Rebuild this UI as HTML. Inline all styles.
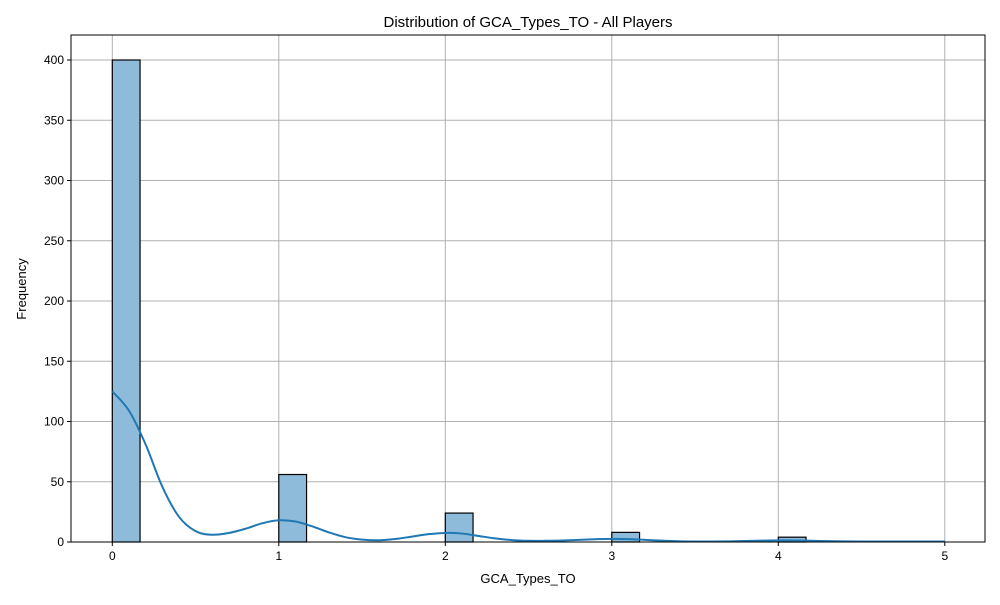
<!DOCTYPE html>
<html><head><meta charset="utf-8"><style>
body{margin:0;background:#fff;font-family:"Liberation Sans",sans-serif}
</style></head><body>
<svg id="chart" width="1000" height="600" font-family="Liberation Sans, sans-serif">
<rect width="1000" height="600" fill="#fff"/>
<text x="528" y="27" font-size="15" text-anchor="middle">Distribution of GCA_Types_TO - All Players</text>
<g id="grid"></g><g id="bars"></g><g id="kde"></g><g id="axes"></g>
<text x="528" y="583" font-size="13" text-anchor="middle">GCA_Types_TO</text>
<text x="26" y="289" font-size="13" text-anchor="middle" transform="rotate(-90 26 289)">Frequency</text>
</svg>
<script>
const binStarts=[0,1,2,3,4];
const binCounts=[400,56,24,8,4];
const binWidth=5/30;
const kdeX=[0,0.1,0.2,0.3,0.4,0.5,0.6,0.7,0.8,0.9,1.0,1.1,1.2,1.3,1.4,1.5,1.6,1.7,1.8,1.9,2.0,2.1,2.2,2.3,2.4,2.5,2.6,2.7,2.8,2.9,3.0,3.1,3.2,3.3,3.4,3.5,3.6,3.7,3.8,3.9,4.0,4.1,4.2,4.3,4.4,4.5,4.6,4.7,4.8,4.9,5.0];
const kdeY=[125,109,81,46,21,9,6,7.5,11,15.5,18,17,13,8,4,2,1.5,2.5,4.5,6.5,7.5,7,5,3,1.6,1,1,1.2,1.8,2.3,2.6,2.4,1.8,1.1,0.6,0.4,0.4,0.5,0.8,1.1,1.3,1.2,1.0,0.7,0.5,0.4,0.4,0.4,0.4,0.4,0.4];
const xTicks=[0,1,2,3,4,5];
const yTicks=[0,50,100,150,200,250,300,350,400];
const L=71,R=985,T=35,B=542;
const xs=v=>112.3+v*166.5;
const ys=v=>B-v*1.205;
const ns="http://www.w3.org/2000/svg";
function mk(tag,attrs,parent){const e=document.createElementNS(ns,tag);for(const k in attrs)e.setAttribute(k,attrs[k]);parent.appendChild(e);return e;}
const grid=document.getElementById('grid'),bars=document.getElementById('bars'),kde=document.getElementById('kde'),axes=document.getElementById('axes');
xTicks.forEach(t=>{
 const g=mk('line',{x1:xs(t),x2:xs(t),y1:T,y2:B,stroke:'#b0b0b0','stroke-width':1},grid);
 
 
 const tk=mk('line',{x1:xs(t),x2:xs(t),y1:B,y2:B+4,stroke:'#000'},axes);
 
 
 const lb=mk('text',{x:xs(t),y:B+18,'font-size':12,'text-anchor':'middle'},axes);lb.textContent=t;
 
 
});
yTicks.forEach(t=>{
 const g=mk('line',{x1:L,x2:R,y1:ys(t),y2:ys(t),stroke:'#b0b0b0','stroke-width':1},grid);
 
 
 const tk=mk('line',{x1:L-4,x2:L,y1:ys(t),y2:ys(t),stroke:'#000'},axes);
 
 
 const lb=mk('text',{x:L-7,y:ys(t)+4,'font-size':12,'text-anchor':'end'},axes);lb.textContent=t;
 
 
});
binStarts.forEach((s,i)=>{
 const x0=xs(s),x1=xs(s+binWidth),y=ys(binCounts[i]);
 const r=mk('rect',{x:x0,y:y,width:x1-x0,height:B-y,fill:'#8fbbdb',stroke:'#000','stroke-width':1.2},bars);
 
 
});
const P=kdeX.map((x,i)=>[xs(x),ys(kdeY[i])]);
let d='M'+P[0][0]+','+P[0][1];
for(let i=0;i<P.length-1;i++){
 const p0=P[Math.max(0,i-1)],p1=P[i],p2=P[i+1],p3=P[Math.min(P.length-1,i+2)];
 const c1=[p1[0]+(p2[0]-p0[0])/6,p1[1]+(p2[1]-p0[1])/6],c2=[p2[0]-(p3[0]-p1[0])/6,p2[1]-(p3[1]-p1[1])/6];
 d+=` C${c1[0]},${c1[1]} ${c2[0]},${c2[1]} ${p2[0]},${p2[1]}`;
}
const path=mk('path',{d:d,fill:'none',stroke:'#1f77b4','stroke-width':2},kde);


const fr=mk('rect',{x:L,y:T,width:R-L,height:B-T,fill:'none',stroke:'#000','stroke-width':1},axes);


</script>
</body></html>
